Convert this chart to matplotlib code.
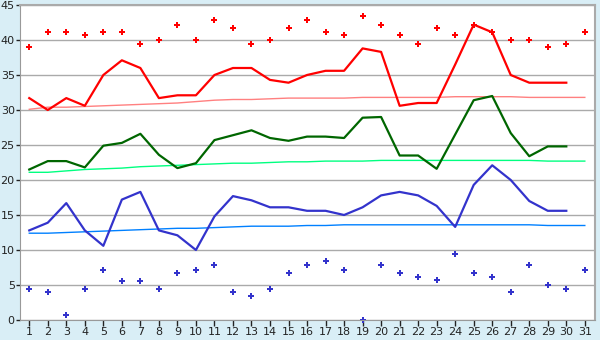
import numpy as np
import matplotlib
matplotlib.use("Agg")
import matplotlib.pyplot as plt

# day of month
days = list(range(1, 32))

# daily values (lines stop at day 30)
high = [31.7, 30.0, 31.7, 30.6, 35.0, 37.1, 36.0, 31.7, 32.1, 32.1,
        35.0, 36.0, 36.0, 34.3, 33.9, 35.0, 35.6, 35.6, 38.8, 38.3,
        30.6, 31.0, 31.0, 36.5, 42.2, 41.1, 35.0, 33.9, 33.9, 33.9]
mean = [21.5, 22.7, 22.7, 21.8, 24.9, 25.3, 26.6, 23.6, 21.7, 22.4,
        25.7, 26.4, 27.1, 26.0, 25.6, 26.2, 26.2, 26.0, 28.9, 29.0,
        23.5, 23.5, 21.6, 26.5, 31.4, 32.0, 26.7, 23.4, 24.8, 24.8]
low = [12.8, 13.9, 16.7, 12.8, 10.6, 17.2, 18.3, 12.8, 12.1, 10.0,
       14.8, 17.7, 17.1, 16.1, 16.1, 15.6, 15.6, 15.0, 16.1, 17.8,
       18.3, 17.8, 16.3, 13.3, 19.3, 22.1, 20.0, 17.0, 15.6, 15.6]

# normals (all 31 days)
normal_high = [30.1, 30.4, 30.4, 30.5, 30.6, 30.7, 30.8, 30.9, 31.0, 31.2,
               31.4, 31.5, 31.5, 31.6, 31.7, 31.7, 31.7, 31.7, 31.8, 31.8,
               31.8, 31.8, 31.8, 31.9, 31.9, 31.9, 31.9, 31.8, 31.8, 31.8, 31.8]
normal_mean = [21.1, 21.1, 21.3, 21.5, 21.6, 21.7, 21.9, 22.0, 22.1, 22.2,
               22.3, 22.4, 22.4, 22.5, 22.6, 22.6, 22.7, 22.7, 22.7, 22.8,
               22.8, 22.8, 22.8, 22.8, 22.8, 22.8, 22.8, 22.8, 22.7, 22.7, 22.7]
normal_low = [12.4, 12.4, 12.5, 12.6, 12.7, 12.8, 12.9, 13.0, 13.1, 13.1,
              13.2, 13.3, 13.4, 13.4, 13.4, 13.5, 13.5, 13.6, 13.6, 13.6,
              13.6, 13.6, 13.6, 13.6, 13.6, 13.6, 13.6, 13.6, 13.5, 13.5, 13.5]

# record values (points)
record_high = [39.0, 41.1, 41.1, 40.7, 41.1, 41.1, 39.4, 40.0, 42.2, 40.0,
               42.8, 41.7, 39.4, 40.0, 41.7, 42.8, 41.1, 40.7, 43.4, 42.2,
               40.7, 39.4, 41.7, 40.7, 42.2, 41.1, 40.0, 40.0, 39.0, 39.4, 41.1]
record_low = [4.4, 4.0, 0.7, 4.4, 7.2, 5.6, 5.6, 4.4, 6.7, 7.2,
              7.8, 4.0, 3.4, 4.4, 6.7, 7.8, 8.4, 7.2, 0.0, 7.8,
              6.7, 6.1, 5.7, 9.4, 6.7, 6.1, 4.0, 7.8, 5.0, 4.4, 7.2]

bg = "#D9EEF6"
fig = plt.figure(figsize=(6, 3.4), dpi=100, facecolor=bg)
ax = fig.add_axes([20 / 600, 20 / 340, 575 / 600, 315 / 340])
ax.set_facecolor("white")

ax.set_axisbelow(True)
ax.grid(axis="y", color="#AAAAAA", linewidth=1)

ax.plot(days, normal_high, color="#FF8080", linewidth=1)
ax.plot(days, normal_mean, color="#00FF80", linewidth=1)
ax.plot(days, normal_low, color="#0080FF", linewidth=1)

ax.plot(days[:30], high, color="#FF0000", linewidth=1.6)
ax.plot(days[:30], mean, color="#006600", linewidth=1.6)
ax.plot(days[:30], low, color="#3333CC", linewidth=1.6)

ax.plot(days, record_high, linestyle="none", marker="P", markersize=5,
        color="#FF0000", markeredgewidth=0, clip_on=False)
ax.plot(days, record_low, linestyle="none", marker="P", markersize=5,
        color="#3333CC", markeredgewidth=0, clip_on=False)

ax.set_xlim(0.5, 31.55)
ax.set_ylim(0, 45)
ax.set_xticks(days)
ax.set_yticks(range(0, 46, 5))
ax.tick_params(axis="both", labelsize=8, colors="#222222", width=1)
ax.tick_params(axis="x", length=4, pad=1)
ax.tick_params(axis="y", length=3, pad=0.8)

for side in ["left", "bottom"]:
    ax.spines[side].set_color("#999999")
for side in ["top", "right"]:
    ax.spines[side].set_color("#AAAAAA")
    ax.spines[side].set_linewidth(1.5)

fig.savefig("out.png", dpi=100, facecolor=bg)
